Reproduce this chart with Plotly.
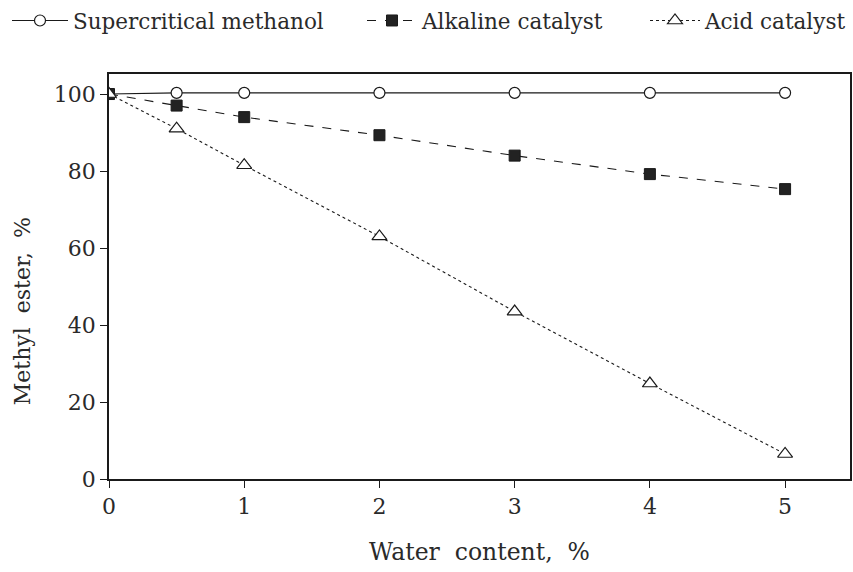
import plotly.graph_objects as go

water = [0, 0.5, 1, 2, 3, 4, 5]
supercritical = [100, 100.3, 100.3, 100.3, 100.3, 100.3, 100.3]
alkaline = [100, 97, 94, 89.3, 84, 79.2, 75.3]
acid = [100, 91, 81.5, 63, 43.5, 24.8, 6.5]

x_ticks = [0, 1, 2, 3, 4, 5]
y_ticks = [0, 20, 40, 60, 80, 100]

FONT = "DejaVu Serif"
INK = "#1a1a1a"
TXT = "#2a2a2a"
W, H = 853, 572

fig = go.Figure()
fig.add_trace(go.Scatter(
    x=water, y=supercritical, name="Supercritical methanol",
    mode="lines+markers", legend="legend",
    line=dict(color=INK, width=1.1, dash="solid"),
    marker=dict(symbol="circle", size=11, color="white", line=dict(color=INK, width=1.2)),
))
fig.add_trace(go.Scatter(
    x=water, y=alkaline, name="Alkaline catalyst",
    mode="lines+markers", legend="legend2",
    line=dict(color=INK, width=1.1, dash="dash"),
    marker=dict(symbol="square", size=11, color="#222222", line=dict(color=INK, width=1)),
))
fig.add_trace(go.Scatter(
    x=water, y=acid, name="Acid catalyst",
    mode="lines+markers", legend="legend3",
    line=dict(color=INK, width=1.1, dash="dot"),
    marker=dict(symbol="triangle-up", size=13, color="white", line=dict(color=INK, width=1.2)),
))

axis_common = dict(
    showline=True, linecolor=INK, linewidth=1.5, mirror=True,
    ticks="outside", ticklen=7, tickwidth=1.2, tickcolor=INK,
    showgrid=False, zeroline=False,
    tickfont=dict(family=FONT, size=22, color=TXT),
)


def legend_box(left_px, item_w):
    return dict(
        orientation="h", x=left_px / W, y=1,
        xanchor="left", yanchor="top", xref="container", yref="container",
        font=dict(family=FONT, size=21.5, color=TXT),
        itemwidth=item_w, bgcolor="rgba(0,0,0,0)", borderwidth=0,
    )


fig.update_layout(
    width=W, height=H,
    margin=dict(l=109, r=1, t=74, b=93),
    paper_bgcolor="white", plot_bgcolor="white",
    font=dict(family=FONT, color=TXT),
    xaxis=dict(
        range=[0, 5.48], tickvals=x_ticks,
        title=dict(text="Water  content,  %", font=dict(family=FONT, size=23.5, color=TXT), standoff=25),
        **axis_common,
    ),
    yaxis=dict(range=[0, 105.2], tickvals=y_ticks, **axis_common),
    legend=legend_box(7, 56),
    legend2=legend_box(362, 50),
    legend3=legend_box(645, 50),
    showlegend=True,
    annotations=[dict(
        text="Methyl  ester,  %", textangle=-90,
        xref="paper", yref="paper",
        x=(22 - 109) / (W - 110), y=(H - 93 - 311) / (H - 74 - 93),
        xanchor="center", yanchor="middle", showarrow=False,
        font=dict(family=FONT, size=22, color=TXT),
    )],
)

fig.write_html("out.html")
